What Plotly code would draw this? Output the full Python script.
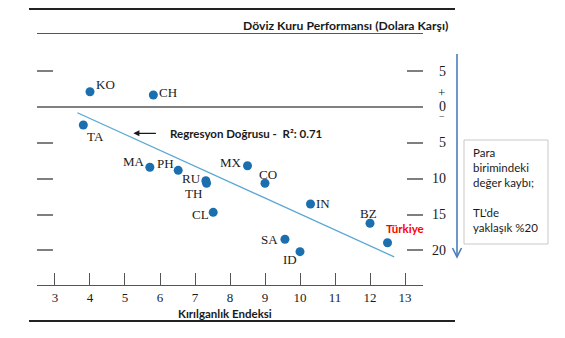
import plotly.graph_objects as go

W, H = 565, 338

countries = ["KO", "CH", "TA", "MA", "PH", "RU", "TH", "CL", "MX", "CO", "IN", "BZ", "SA", "ID", "Türkiye"]
fragility = [4.0, 5.81, 3.81, 5.71, 6.52, 7.31, 7.33, 7.52, 8.5, 9.0, 10.3, 12.0, 9.57, 10.0, 12.5]
performance = [2.13, 1.67, -2.51, -8.41, -8.83, -10.28, -10.64, -14.69, -8.19, -10.64, -13.53, -16.22, -18.45, -20.18, -18.93]

reg_x = [3.64, 12.69]
reg_y = [-0.8, -20.9]
r_squared = 0.71

x_ticks = [3, 4, 5, 6, 7, 8, 9, 10, 11, 12, 13]
y_ticks = [5, -5, -10, -15, -20]
y_labels_vals = [5, 0, -5, -10, -15, -20]
y_labels_text = ["5", "0", "5", "10", "15", "20"]

# label offsets (pixels) for each country label
label_dx = [16, 15, 12, -16, -13, -14, -13, -13, -17, 3, 12, -2, -15, -10, 17]
label_dy = [7, 3, -11, 6, 7, 2, -10, -2, 3, 9, 1, 10, 0, -8, 14]

def px(x):
    return x / W

def py(y):
    return 1 - y / H

MARK = "#1b6fae"
SERIF = "Liberation Serif"
SANS = "Lato"
GRAY = "#7f7f7f"

fig = go.Figure()

fig.add_trace(go.Scatter(x=reg_x, y=reg_y, mode="lines",
                         line=dict(color="#5ba8d4", width=1.3), hoverinfo="skip"))
fig.add_trace(go.Scatter(x=fragility, y=performance, mode="markers",
                         marker=dict(color=MARK, size=9), text=countries))

annotations = []
for c, xv, yv, dx, dy in zip(countries, fragility, performance, label_dx, label_dy):
    if c == "Türkiye":
        f = dict(family=SANS, size=11.5, color="#ff0000")
        t = "<b>" + c + "</b>"
    else:
        f = dict(family=SERIF, size=13, color="#1a1a1a")
        t = c
    annotations.append(dict(x=xv, y=yv, xref="x", yref="y", text=t, showarrow=False,
                            xshift=dx, yshift=dy, font=f))

# right side value labels
for v, t in zip(y_labels_vals, y_labels_text):
    annotations.append(dict(x=px(448), y=v, xref="paper", yref="y", text=t, showarrow=False,
                            xanchor="right", yanchor="middle",
                            font=dict(family=SERIF, size=14, color="#1a1a1a")))
annotations.append(dict(x=px(447), y=0, xref="paper", yref="y", text="+", showarrow=False,
                        xanchor="right", yanchor="middle", yshift=14,
                        font=dict(family=SERIF, size=13, color="#1a1a1a")))
annotations.append(dict(x=px(447), y=0, xref="paper", yref="y", text="−", showarrow=False,
                        xanchor="right", yanchor="middle", yshift=-10,
                        font=dict(family=SERIF, size=10, color="#1a1a1a")))

# regression annotation arrow
annotations.append(dict(x=5.24, y=-3.67, xref="x", yref="y", ax=24, ay=0, text="",
                        showarrow=True, arrowhead=2, arrowsize=1, arrowwidth=1.2, arrowcolor="#1a1a1a"))
annotations.append(dict(x=px(168), y=-3.67, xref="paper", yref="y", xanchor="left", yanchor="middle",
                        text="<b>Regresyon Doğrusu -  R²: " + f"{r_squared:.2f}" + "</b>",
                        showarrow=False, font=dict(family=SANS, size=11.5, color="#1a1a1a")))

# titles
annotations.append(dict(x=px(450), y=py(25), xref="paper", yref="paper", xanchor="right", yanchor="middle",
                        text="<b>Döviz Kuru Performansı (Dolara Karşı)</b>", showarrow=False,
                        font=dict(family=SANS, size=12.2, color="#1a1a1a")))
annotations.append(dict(x=px(225), y=py(313), xref="paper", yref="paper", xanchor="center", yanchor="middle",
                        text="<b>Kırılganlık Endeksi</b>", showarrow=False,
                        font=dict(family=SANS, size=11.5, color="#1a1a1a")))

# box text
annotations.append(dict(x=px(471), y=py(144), xref="paper", yref="paper", xanchor="left", yanchor="top",
                        align="left",
                        text="Para<br>birimindeki<br>değer kaybı;<br> <br>TL'de<br>yaklaşık %20",
                        showarrow=False, font=dict(family=SANS, size=11.5, color="#1a1a1a")))

shapes = [
    dict(type="line", xref="paper", yref="paper", x0=px(29), x1=px(455), y0=py(9), y1=py(9),
         line=dict(color="#222222", width=2)),
    dict(type="line", xref="paper", yref="paper", x0=px(29), x1=px(455), y0=py(321), y1=py(321),
         line=dict(color="#222222", width=2)),
    dict(type="rect", xref="paper", yref="paper", x0=px(464), x1=px(548), y0=py(140), y1=py(244),
         line=dict(color="#c8c8c8", width=1)),
    dict(type="line", xref="paper", yref="paper", x0=px(457), x1=px(457), y0=py(54), y1=py(256.5),
         line=dict(color="#4a7ebb", width=1.6)),
    dict(type="path", xref="paper", yref="paper",
         path=f"M {px(452.5)} {py(248)} L {px(457)} {py(257)} L {px(461.5)} {py(248)}",
         line=dict(color="#4a7ebb", width=1.6)),
]

xt_vals = [2.49] + x_ticks + [13.51]
xt_text = [""] + [str(v) for v in x_ticks] + [""]

fig.update_layout(
    width=W, height=H, margin=dict(l=0, r=0, t=0, b=0),
    paper_bgcolor="white", plot_bgcolor="white", showlegend=False,
    xaxis=dict(domain=[px(37), px(423)], range=[2.486, 13.514], tickvals=xt_vals, ticktext=xt_text,
               ticks="inside", ticklen=12, tickcolor="#555555", tickwidth=1,
               showline=True, linecolor="#555555", linewidth=1, mirror=True,
               showgrid=False, zeroline=False,
               tickfont=dict(family=SERIF, size=13, color="#1a1a1a")),
    yaxis=dict(domain=[py(285), py(34)], range=[(107 - 285) / 7.17, (107 - 34) / 7.17],
               tickvals=y_ticks, ticks="inside", ticklen=16, tickcolor=GRAY, tickwidth=1.5,
               showticklabels=False, showline=False, mirror="ticks", showgrid=False,
               zeroline=True, zerolinecolor="#808080", zerolinewidth=1.5),
    shapes=shapes, annotations=annotations,
)

fig.write_html("out.html")
